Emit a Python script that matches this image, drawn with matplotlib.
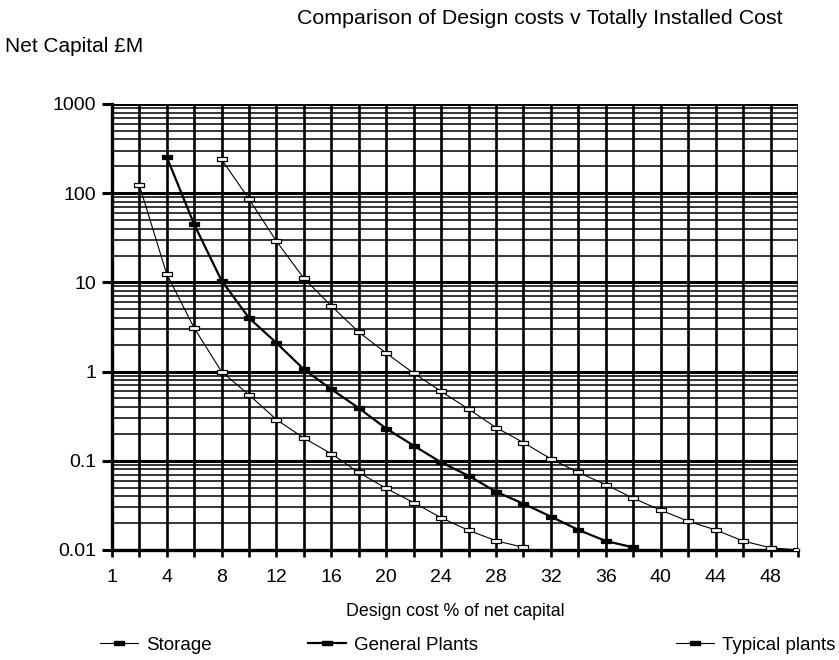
import numpy as np
import matplotlib
matplotlib.use("Agg")
import matplotlib.pyplot as plt
from matplotlib.ticker import LogLocator, NullFormatter, FixedLocator
from matplotlib.lines import Line2D

plt.rcParams['font.family'] = ['Liberation Sans', 'DejaVu Sans']

# Design cost categories (% of net capital)
categories = [1, 2, 4, 6, 8, 10, 12, 14, 16, 18, 20, 22, 24, 26, 28, 30,
              32, 34, 36, 38, 40, 42, 44, 46, 48, 50]
tick_labels = [str(c) if i % 2 == 0 else "" for i, c in enumerate(categories)]

nan = np.nan
# Net capital (£M) for each design-cost category
storage = [nan, 125, 12.5, 3.1, 1.0, 0.55, 0.29, 0.18, 0.12, 0.074, 0.049,
           0.034, 0.023, 0.0166, 0.0127, 0.0107, nan, nan, nan, nan, nan,
           nan, nan, nan, nan, nan]
general_plants = [nan, nan, 257, 45, 10.5, 4.0, 2.1, 1.06, 0.635, 0.39, 0.23,
                  0.148, 0.096, 0.068, 0.045, 0.033, 0.0237, 0.0168, 0.0126,
                  0.0107, nan, nan, nan, nan, nan, nan]
typical_plants = [nan, nan, nan, nan, 240, 86, 29, 11.1, 5.45, 2.77, 1.61,
                  0.96, 0.6, 0.38, 0.236, 0.16, 0.105, 0.074, 0.054, 0.038,
                  0.028, 0.021, 0.0168, 0.0126, 0.0106, 0.0100]

series_names = ["Storage", "General Plants", "Typical plants"]

fig = plt.figure(figsize=(8.39, 6.6), dpi=100)
ax = fig.add_axes([111.7 / 839, 1 - 550 / 660, (798 - 111.7) / 839, (550 - 104) / 660])

x = np.arange(len(categories))

# rectangular marker
rect = [(-1, -0.5), (1, -0.5), (1, 0.5), (-1, 0.5), (-1, -0.5)]

styles = [
    dict(lw=0.8, mfc="white", mec="black", mew=0.9),
    dict(lw=1.6, mfc="black", mec="black", mew=0.9),
    dict(lw=0.8, mfc="white", mec="black", mew=0.9),
]
handles = []
for vals, st in zip([storage, general_plants, typical_plants], styles):
    ax.plot(x, vals, color="black", lw=st["lw"], marker=rect, ms=7,
            mfc=st["mfc"], mec=st["mec"], mew=st["mew"], zorder=5)
    handles.append(Line2D([], [], color="black", lw=st["lw"], marker=rect, ms=7,
                          mfc="black", mec="black"))

ax.set_yscale("log")
ax.set_ylim(0.01, 1000)
ax.set_xlim(0, len(categories) - 1)

ax.yaxis.set_major_locator(FixedLocator([0.01, 0.1, 1, 10, 100, 1000]))
ax.set_yticklabels(["0.01", "0.1", "1", "10", "100", "1000"])
ax.yaxis.set_minor_locator(LogLocator(base=10, subs=np.arange(2, 10)))
ax.yaxis.set_minor_formatter(NullFormatter())

ax.set_xticks(x)
ax.set_xticklabels(tick_labels)

ax.grid(True, which="major", axis="y", color="black", lw=2.2)
ax.grid(True, which="minor", axis="y", color="black", lw=1.1)
ax.grid(True, which="major", axis="x", color="black", lw=1.9)
ax.set_axisbelow(True)

for s in ["top", "right"]:
    ax.spines[s].set_visible(False)
ax.spines["left"].set_linewidth(2.4)
ax.spines["bottom"].set_linewidth(2.4)

ax.tick_params(axis="y", which="major", length=7, width=2.2, labelsize=14, pad=4)
ax.tick_params(axis="y", which="minor", length=0)
ax.tick_params(axis="x", which="major", length=5, width=1.9, labelsize=14, pad=9)

ax.set_xlabel("Design cost % of net capital", fontsize=12.8, labelpad=12)

fig.text(297 / 839, 1 - 18 / 660, "Comparison of Design costs v Totally Installed Cost",
         fontsize=15.4, ha="left", va="center")
fig.text(5 / 839, 1 - 47 / 660, "Net Capital £M", fontsize=15, ha="left", va="center")

legend_x = [100 / 839, 308 / 839, 676 / 839]
for h, name, lx in zip(handles, series_names, legend_x):
    fig.legend([h], [name], loc="center left", bbox_to_anchor=(lx, 1 - 645 / 660),
               frameon=False, fontsize=13.5, handlelength=2.0, handletextpad=0.45,
               borderpad=0, borderaxespad=0)

fig.savefig("out.png", dpi=100, facecolor="white")
